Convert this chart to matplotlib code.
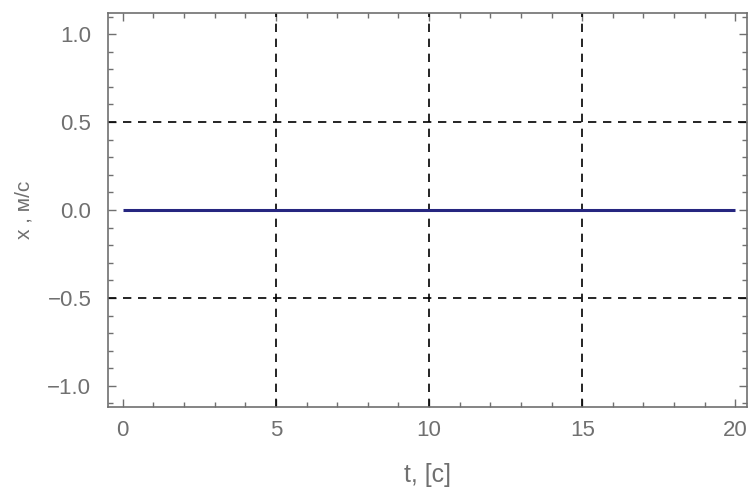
import matplotlib
matplotlib.use("Agg")
import matplotlib.pyplot as plt
from matplotlib.ticker import MultipleLocator

t_values = [0, 20]
x_values = [0.0, 0.0]
x_ticks = [0, 5, 10, 15, 20]
y_ticks = [-1.0, -0.5, 0.0, 0.5, 1.0]
x_grid = [5, 10, 15]
y_grid = [-0.5, 0.5]

plt.rcParams['font.family'] = ['Liberation Sans', 'DejaVu Sans']
gray = '#707070'

fig = plt.figure(figsize=(7.49, 4.92), dpi=100)
ax = fig.add_axes([108/749, 1-407/492, (746.7-108)/749, (407-13)/492])

ax.plot(t_values, x_values, color='#262680', lw=2.2, solid_capstyle='butt', zorder=3)
for g in x_grid:
    ax.axvline(g, color='black', lw=1.2, ls=(0, (5, 4)), zorder=2)
for g in y_grid:
    ax.axhline(g, color='black', lw=1.2, ls=(0, (5, 4)), zorder=2)

ax.set_xlim(-0.48, 20.37)
ax.set_ylim(-1.12, 1.12)
ax.set_xticks(x_ticks)
ax.set_yticks(y_ticks)
ax.set_xticklabels([str(v) for v in x_ticks])
ax.set_yticklabels([f"{v:.1f}".replace('-', '\u2212') for v in y_ticks])
ax.xaxis.set_minor_locator(MultipleLocator(1))
ax.yaxis.set_minor_locator(MultipleLocator(0.1))
ax.tick_params(which='both', direction='in', top=True, right=True, color=gray,
               labelcolor=gray, labelsize=16, width=1)
ax.tick_params(which='major', length=6)
ax.tick_params(which='minor', length=3.5)
ax.tick_params(axis='x', which='major', pad=9)
ax.tick_params(axis='y', which='major', pad=12)
for s in ax.spines.values():
    s.set_color(gray)
    s.set_linewidth(1.2)

ax.set_xlabel('t, [c]', color=gray, fontsize=18, labelpad=16)
ax.set_ylabel('x , м/с', color=gray, fontsize=15, labelpad=10)

fig.savefig('out.png', dpi=100)
